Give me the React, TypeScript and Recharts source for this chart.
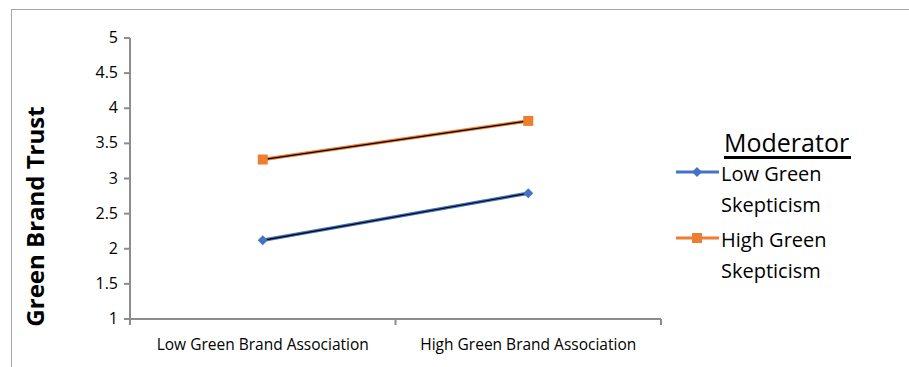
import { LineChart, Line, XAxis, YAxis, Label } from "recharts";

const categories = ["Low Green Brand Association", "High Green Brand Association"];
const lowSkepticism = [2.12, 2.79];
const highSkepticism = [3.27, 3.82];
const yTicks = [1, 1.5, 2, 2.5, 3, 3.5, 4, 4.5, 5];

const BLUE = "#4472C4";
const ORANGE = "#ED7D31";
const AXIS = "#8c8c8c";
const FONT = "'Open Sans', Lato, sans-serif";

const data = categories.map((name, i) => ({
  name,
  pos: i + 0.5,
  low: lowSkepticism[i],
  high: highSkepticism[i],
}));

// category boundaries get a tick mark, category centres get the label
const xTicks = [0, 0.5, 1, 1.5, 2];

const Diamond = (props: any) => {
  const { cx, cy } = props;
  if (cx == null || cy == null) return null;
  const r = 5;
  return (
    <path
      d={`M${cx},${cy - r}L${cx + r},${cy}L${cx},${cy + r}L${cx - r},${cy}Z`}
      fill={BLUE}
    />
  );
};

const Square = (props: any) => {
  const { cx, cy } = props;
  if (cx == null || cy == null) return null;
  return <rect x={cx - 5} y={cy - 5} width={10} height={10} fill={ORANGE} />;
};

const YTick = (props: any) => {
  const { x, y, payload } = props;
  return (
    <text x={x - 4} y={y} dy={5} textAnchor="end" fontSize={16} fontFamily={FONT} fill="#000">
      {payload.value}
    </text>
  );
};

const XTick = (props: any) => {
  const { x, y, payload } = props;
  const v = payload.value as number;
  if (Number.isInteger(v)) {
    return <line x1={x} x2={x} y1={y - 8} y2={y - 2} stroke={AXIS} strokeWidth={2} />;
  }
  return (
    <text x={x} y={y} dy={23} textAnchor="middle" fontSize={15.5} fontFamily={FONT} fill="#000">
      {categories[Math.floor(v)]}
    </text>
  );
};

const YLabel = (props: any) => {
  const { viewBox } = props;
  const cy = viewBox.y + viewBox.height / 2 + 38;
  return (
    <text
      x={34}
      y={cy}
      transform={`rotate(-90, 34, ${cy})`}
      textAnchor="middle"
      dominantBaseline="central"
      fontSize={24}
      fontWeight={700}
      fontFamily={FONT}
      fill="#000"
    >
      Green Brand Trust
    </text>
  );
};

const LegendItem = ({ color, square, lines }: { color: string; square: boolean; lines: string[] }) => (
  <div style={{ position: "relative", paddingLeft: 46, marginBottom: 4 }}>
    <svg width={46} height={14} style={{ position: "absolute", left: 0, top: 7 }}>
      <line x1={1} y1={7} x2={44} y2={7} stroke={color} strokeWidth={3} />
      {square ? (
        <rect x={17} y={2} width={10} height={10} fill={color} />
      ) : (
        <path d="M22,2L27,7L22,12L17,7Z" fill={color} />
      )}
    </svg>
    {lines.map((l) => (
      <div key={l} style={{ lineHeight: "31px", height: 31 }}>{l}</div>
    ))}
  </div>
);

export default function App() {
  return (
    <div style={{ position: "absolute", left: 0, top: 0, width: 909, height: 367, background: "#fff", overflow: "hidden" }}>
      <div
        style={{
          position: "absolute",
          left: 11,
          top: 9,
          width: 909,
          height: 400,
          borderLeft: "1px solid #a6a6a6",
          borderTop: "1px solid #a6a6a6",
        }}
      />
      <div style={{ position: "absolute", left: 0, top: 0 }}>
        <LineChart
          width={909}
          height={367}
          data={data}
          margin={{ top: 38, right: 248, bottom: 0, left: 0 }}
        >
          <XAxis
            dataKey="pos"
            type="number"
            domain={[0, 2]}
            ticks={xTicks}
            interval={0}
            stroke={AXIS}
            strokeWidth={2}
            tickLine={false}
            tick={<XTick />}
            height={48}
          />
          <YAxis
            domain={[1, 5]}
            ticks={yTicks}
            interval={0}
            stroke={AXIS}
            strokeWidth={2}
            tickSize={6}
            width={130}
            tick={<YTick />}
          >
            <Label content={<YLabel />} />
          </YAxis>
          <Line dataKey="low" stroke={BLUE} strokeWidth={3.5} dot={false} isAnimationActive={false} />
          <Line dataKey="low" stroke="#000" strokeWidth={1.2} dot={<Diamond />} isAnimationActive={false} />
          <Line dataKey="high" stroke={ORANGE} strokeWidth={3.5} dot={false} isAnimationActive={false} />
          <Line dataKey="high" stroke="#000" strokeWidth={1.2} dot={<Square />} isAnimationActive={false} />
        </LineChart>
      </div>
      <div style={{ position: "absolute", left: 675, top: 128, fontFamily: FONT, fontSize: 20, color: "#000" }}>
        <div
          style={{
            marginLeft: 49,
            fontSize: 25,
            lineHeight: "28px",
            borderBottom: "3px solid #000",
            display: "inline-block",
            paddingRight: 2,
            marginBottom: -4,
          }}
        >
          Moderator
        </div>
        <LegendItem color={BLUE} square={false} lines={["Low Green", "Skepticism"]} />
        <LegendItem color={ORANGE} square={true} lines={["High Green", "Skepticism"]} />
      </div>
    </div>
  );
}
